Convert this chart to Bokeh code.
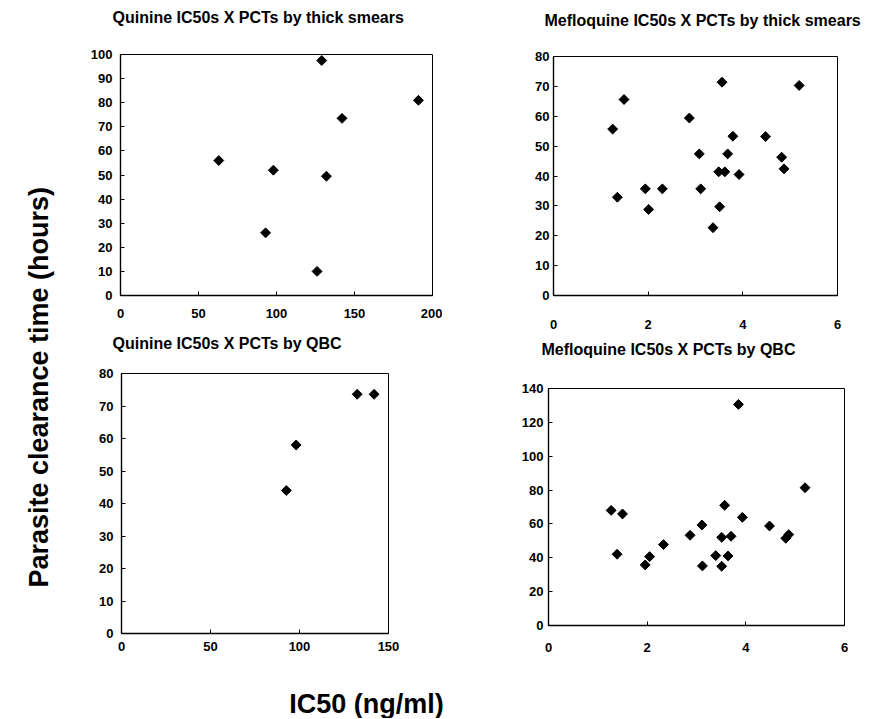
import numpy as np
from bokeh.plotting import figure
from bokeh.models import Range1d, FixedTicker
from bokeh.layouts import row, column
from bokeh.embed import file_html
from bokeh.resources import INLINE
from bokeh.core.properties import value

# ---------------- data ----------------
quinine_thick_ic50 = [63, 93, 98, 126, 129, 132, 142, 191]
quinine_thick_pct = [56, 26, 52, 10, 97.5, 49.5, 73.5, 81]

meflo_thick_ic50 = [1.25, 1.35, 1.49, 1.94, 2.01, 2.30, 2.87, 3.08, 3.11, 3.37, 3.49,
                    3.51, 3.56, 3.62, 3.68, 3.79, 3.92, 4.48, 4.82, 4.87, 5.19]
meflo_thick_pct = [55.7, 32.9, 65.6, 35.7, 28.8, 35.7, 59.4, 47.4, 35.7, 22.7, 41.4,
                   29.7, 71.4, 41.4, 47.4, 53.3, 40.5, 53.2, 46.3, 42.4, 70.3]

quinine_qbc_ic50 = [92.6, 98.1, 132.4, 141.9]
quinine_qbc_pct = [44, 58, 73.6, 73.6]

meflo_qbc_ic50 = [1.27, 1.39, 1.50, 1.96, 2.05, 2.33, 2.87, 3.11, 3.12, 3.39, 3.51,
                  3.51, 3.57, 3.64, 3.70, 3.85, 3.93, 4.48, 4.81, 4.87, 5.20]
meflo_qbc_pct = [68.0, 42.1, 65.9, 35.8, 40.7, 47.8, 53.3, 59.4, 35.2, 41.3, 52.1,
                 35.0, 71.0, 41.1, 52.7, 130.6, 63.9, 58.8, 51.5, 53.7, 81.4]

quinine_thick_xticks = [0, 50, 100, 150, 200]
quinine_thick_yticks = [0, 10, 20, 30, 40, 50, 60, 70, 80, 90, 100]
meflo_thick_xticks = [0, 2, 4, 6]
meflo_thick_yticks = [0, 10, 20, 30, 40, 50, 60, 70, 80]
quinine_qbc_xticks = [0, 50, 100, 150]
quinine_qbc_yticks = [0, 10, 20, 30, 40, 50, 60, 70, 80]
meflo_qbc_xticks = [0, 2, 4, 6]
meflo_qbc_yticks = [0, 20, 40, 60, 80, 100, 120, 140]

titles = ["Quinine IC50s X PCTs by thick smears",
          "Mefloquine IC50s X PCTs by thick smears",
          "Quinine IC50s X PCTs by QBC",
          "Mefloquine IC50s X PCTs by QBC"]
y_label = "Parasite clearance  time (hours)"
x_label = "IC50 (ng/ml)"

FONT = "Liberation Sans"
RIGHT_W = 783  # width of the column holding the four panels


def panel(xs, ys, xmax, ymax, xticks, yticks, fw, fh, bl, br, bt, bb,
          xstand, ystand):
    p = figure(width=bl + fw + br, height=bt + fh + bb, title=None,
               x_range=Range1d(0, xmax), y_range=Range1d(0, ymax),
               min_border_left=bl, min_border_right=br,
               min_border_top=bt, min_border_bottom=bb,
               frame_align=False,
               toolbar_location=None, output_backend="svg")
    p.grid.visible = False
    p.outline_line_color = "black"
    p.outline_line_width = 1
    p.background_fill_color = "white"
    p.border_fill_color = "white"
    p.xaxis.ticker = FixedTicker(ticks=xticks)
    p.yaxis.ticker = FixedTicker(ticks=yticks)
    for ax in (p.xaxis, p.yaxis):
        ax.axis_line_color = "black"
        ax.axis_line_width = 1.4
        ax.major_tick_in = 4
        ax.major_tick_out = 0
        ax.minor_tick_line_color = None
        ax.major_tick_line_color = "black"
        ax.major_label_text_font = FONT
        ax.major_label_text_font_style = "bold"
        ax.major_label_text_font_size = "13px"
        ax.major_label_text_color = "black"
    p.xaxis.major_label_standoff = xstand
    p.yaxis.major_label_standoff = ystand
    p.scatter(xs, ys, marker="square", angle=np.pi / 4, size=7,
              fill_color="black", line_color="black")
    return p


def label_fig(w, h):
    f = figure(width=w, height=h, x_range=Range1d(0, w), y_range=Range1d(0, h),
               x_axis_type=None, y_axis_type=None, min_border=0, title=None,
               frame_align=False,
               toolbar_location=None, output_backend="svg")
    f.grid.visible = False
    f.outline_line_color = None
    f.background_fill_color = "white"
    f.border_fill_color = "white"
    return f


def title_row(h, texts, xs, ys):
    f = label_fig(RIGHT_W, h)
    f.text(x=xs, y=ys, text=texts, text_font=value(FONT), text_font_style="bold",
           text_font_size="16px", text_align="left", text_baseline="middle",
           text_color="black")
    return f


t1 = title_row(36, titles[0:2], [26, 458], [19, 16])
p1 = panel(quinine_thick_ic50, quinine_thick_pct, 200, 100,
           quinine_thick_xticks, quinine_thick_yticks,
           312, 241, 34, 10, 18, 38, 13, 8)
p2 = panel(meflo_thick_ic50, meflo_thick_pct, 6, 80,
           meflo_thick_xticks, meflo_thick_yticks,
           284, 239, 111, 32, 20, 38, 24, 4)

t2 = title_row(28, titles[2:4], [26, 455], [18, 12])
p3 = panel(quinine_qbc_ic50, quinine_qbc_pct, 150, 80,
           quinine_qbc_xticks, quinine_qbc_yticks,
           267, 260, 35, 20, 12, 25, 8, 8)
p4 = panel(meflo_qbc_ic50, meflo_qbc_pct, 6, 140,
           meflo_qbc_xticks, meflo_qbc_yticks,
           296, 237, 140, 25, 27, 33, 17, 5)

ylab = label_fig(86, 718)
ylab.text(x=[38], y=[335], text=[y_label], angle=np.pi / 2,
          text_font=value(FONT), text_font_style="bold", text_font_size="27px",
          text_align="center", text_baseline="middle", text_color="black")

xlab = label_fig(RIGHT_W, 60)
xlab.text(x=[280], y=[15], text=[x_label],
          text_font=value(FONT), text_font_style="bold", text_font_size="27px",
          text_align="center", text_baseline="middle", text_color="black")

layout = row(ylab, column(t1, row(p1, p2), t2, row(p3, p4), xlab))

open("out.html", "w").write(file_html(layout, INLINE))
